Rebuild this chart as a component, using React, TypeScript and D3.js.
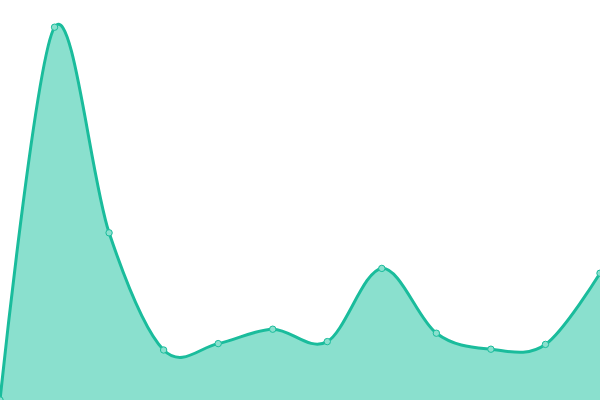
import * as React from 'react';
import * as d3 from 'd3';

const INDEX = [0, 1, 2, 3, 4, 5, 6, 7, 8, 9, 10, 11];
const VALUES = [0, 93.2, 41.8, 12.5, 14.1, 17.7, 14.6, 32.9, 16.7, 12.7, 13.9, 31.7];

const WIDTH = 600;
const HEIGHT = 400;
const LINE = '#1abc9c';
const FILL = '#8ae0ce';

export default function App() {
    const svgRef = React.useRef<SVGSVGElement>(null);

    React.useEffect(() => {
        const svg = d3.select(svgRef.current);
        svg.selectAll('*').remove();

        const xScale = d3.scaleLinear().domain([0, INDEX.length - 1]).range([0, WIDTH]);
        const yScale = d3.scaleLinear().domain([0, 100]).range([HEIGHT, 0]);

        const data = INDEX.map((i) => ({ i, v: VALUES[i] }));
        const curve = d3.curveCardinal.tension(0);

        const area = d3
            .area<{ i: number; v: number }>()
            .x((d) => xScale(d.i))
            .y0(yScale(0))
            .y1((d) => yScale(d.v))
            .curve(curve);
        const line = d3
            .line<{ i: number; v: number }>()
            .x((d) => xScale(d.i))
            .y((d) => yScale(d.v))
            .curve(curve);

        svg.append('path').datum(data).attr('fill', FILL).attr('d', area);
        svg.append('path')
            .datum(data)
            .attr('fill', 'none')
            .attr('stroke', LINE)
            .attr('stroke-width', 3)
            .attr('d', line);

        svg.selectAll('circle.pt')
            .data(data)
            .enter()
            .append('circle')
            .attr('class', 'pt')
            .attr('cx', (d) => xScale(d.i))
            .attr('cy', (d) => yScale(d.v))
            .attr('r', 3.2)
            .attr('fill', FILL)
            .attr('stroke', LINE)
            .attr('stroke-width', 1);
    });

    return (
        <svg
            ref={svgRef}
            width={WIDTH}
            height={HEIGHT}
            style={{ position: 'absolute', left: 0, top: 0, background: '#fff' }}
        />
    );
}
